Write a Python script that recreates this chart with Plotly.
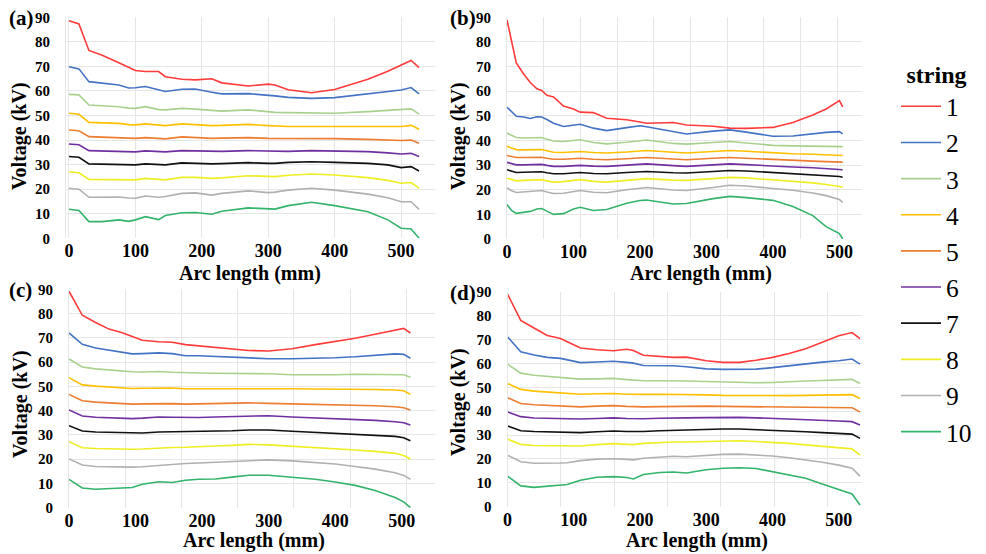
import plotly.graph_objects as go

# ---------------- data ----------------
strings = ["1", "2", "3", "4", "5", "6", "7", "8", "9", "10"]
colors = ["#FF3B3B", "#4472C4", "#A9D18E", "#FFC000", "#ED7D31",
          "#7030A0", "#111111", "#EEEE22", "#B0B0B0", "#33B36B"]
x_ticks = [0, 100, 200, 300, 400, 500]
y_ticks = [0, 10, 20, 30, 40, 50, 60, 70, 80, 90]

# panel (a)
x_a = [0, 15, 30, 50, 75, 90, 100, 115, 135, 145, 170, 190, 215, 230, 270, 300, 310, 330, 365, 400, 450, 480, 500, 515, 527]
a1 = [88.6, 87.3, 76.5, 74.5, 71.5, 69.5, 68.3, 67.9, 67.9, 65.8, 64.8, 64.5, 65, 63.3, 62, 62.8, 62.4, 60.5, 59.3, 60.6, 64.8, 68, 70.6, 72.4, 69.5]
a2 = [69.9, 69, 63.8, 63.1, 62.4, 61.2, 61.3, 61.8, 60.5, 59.8, 60.7, 60.8, 59.5, 58.8, 58.9, 58.4, 58.0, 57.4, 57, 57.3, 59, 59.9, 60.4, 61.4, 58.8]
a3 = [58.6, 58.4, 54.3, 54, 53.6, 53, 52.9, 53.6, 52.4, 52.3, 52.9, 52.6, 52, 51.8, 52.3, 51.4, 51.3, 51.2, 51.2, 50.9, 51.6, 52, 52.3, 52.7, 50.6]
a4 = [50.9, 50.5, 47.2, 47, 46.8, 46.3, 46.2, 46.6, 46, 45.9, 46.6, 46.3, 45.9, 46, 46.4, 45.9, 45.7, 45.5, 45.5, 45.5, 45.6, 45.5, 45.5, 46, 44.4]
a5 = [44.1, 43.8, 41.4, 41.2, 41.1, 40.8, 40.7, 41, 40.6, 40.5, 41.3, 41, 40.7, 40.8, 41, 40.7, 40.7, 40.7, 40.7, 40.6, 40.3, 40, 39.8, 40, 38.7]
a6 = [38.4, 38.1, 35.7, 35.6, 35.5, 35.3, 35.2, 35.6, 35.3, 35.2, 35.7, 35.5, 35.3, 35.4, 35.7, 35.4, 35.3, 35.4, 35.7, 35.5, 35.3, 34.8, 34.3, 34.6, 33.3]
a7 = [33.3, 33, 30.3, 30.2, 30.1, 29.9, 29.9, 30.3, 30, 29.9, 30.7, 30.5, 30.3, 30.4, 30.8, 30.5, 30.5, 30.9, 31.2, 30.9, 30.5, 29.9, 28.8, 29.2, 27.4]
a8 = [27.1, 26.7, 24, 24, 24, 23.8, 23.8, 24.4, 23.8, 23.8, 24.8, 24.8, 24.4, 24.6, 25.5, 25.1, 25.1, 25.7, 26.2, 25.8, 24.7, 23.6, 22.4, 22.7, 20.4]
a9 = [20.4, 20, 16.7, 16.7, 16.8, 16.4, 16.3, 17.2, 16.7, 17, 18.3, 18.5, 17.6, 18.3, 19.3, 18.6, 18.8, 19.6, 20.4, 19.6, 18, 16.5, 14.9, 14.9, 11.8]
a10 = [11.8, 11.3, 6.8, 6.8, 7.5, 6.9, 7.5, 8.8, 7.6, 9.3, 10.4, 10.5, 9.8, 11, 12.4, 11.8, 11.9, 13.3, 14.7, 13.3, 10.8, 7.5, 4.1, 3.8, 0]

# panel (b)
x_b = [0, 7, 14, 25, 35, 45, 52, 60, 70, 85, 100, 110, 130, 150, 180, 200, 210, 250, 270, 310, 335, 360, 400, 430, 460, 480, 500, 505]
b1 = [88.9, 80, 71.5, 67, 63.5, 61, 60.3, 58.3, 57.7, 54, 52.8, 51.5, 51.3, 49, 48.4, 47.5, 47, 47.3, 46.3, 45.8, 45, 44.9, 45.3, 47.3, 50.3, 52.8, 56.2, 53.6]
b2 = [53.5, 51.5, 49.8, 49.5, 48.9, 49.6, 49.5, 48.5, 47, 45.7, 46.3, 46.6, 45, 44, 45.2, 46, 45.6, 43.5, 42.6, 43.8, 44.3, 43.4, 41.7, 41.8, 42.8, 43.3, 43.6, 42.7]
b3 = [43, 42, 41.2, 41, 41, 41.3, 41.2, 40.5, 39.8, 39.6, 40, 40.3, 39.2, 38.6, 39.3, 40, 40.2, 38.8, 38.5, 39.2, 39.6, 39, 38, 37.8, 37.8, 37.7, 37.7, 37.5]
b4 = [37.6, 36.8, 36.3, 36.2, 36.2, 36.3, 36.3, 35.8, 35.2, 35.1, 35.4, 35.5, 35.1, 34.9, 35.3, 35.8, 35.9, 35.2, 34.9, 35.5, 35.9, 35.6, 34.9, 34.6, 34.4, 34.2, 34, 33.9]
b5 = [33.9, 33.4, 33.1, 33.1, 33.1, 33.2, 33.2, 32.8, 32.4, 32.4, 32.7, 32.8, 32.4, 32.2, 32.6, 33, 33.1, 32.5, 32.2, 32.8, 33.1, 32.8, 32.2, 31.9, 31.6, 31.4, 31.3, 31.2]
b6 = [31.1, 30.5, 30.1, 30.1, 30.1, 30.3, 30.3, 29.9, 29.5, 29.5, 29.8, 29.9, 29.6, 29.5, 30, 30.4, 30.5, 29.8, 29.5, 30.1, 30.5, 30.2, 29.5, 29.2, 28.9, 28.6, 28.3, 28.1]
b7 = [28.1, 27.5, 27, 27.1, 27.2, 27.3, 27.3, 26.9, 26.5, 26.5, 26.9, 27, 26.6, 26.5, 27, 27.4, 27.4, 26.9, 26.8, 27.4, 27.8, 27.6, 27, 26.6, 26.3, 25.9, 25.4, 25.1]
b8 = [24.7, 24, 23.6, 23.8, 24, 24.2, 24.1, 23.6, 23.1, 23.3, 23.9, 24.1, 23.4, 23.1, 23.8, 24.4, 24.5, 23.9, 23.8, 24.5, 25, 24.8, 24.1, 23.5, 22.8, 22.1, 21.5, 21.1]
b9 = [20.7, 19.6, 18.9, 19.2, 19.4, 19.8, 19.7, 19.1, 18.5, 18.6, 19.4, 19.7, 19, 18.8, 20, 20.8, 20.9, 19.9, 19.7, 20.9, 21.8, 21.5, 20.7, 19.8, 18.7, 17.6, 16, 14.9]
b10 = [14, 11.5, 10.4, 10.8, 11.2, 12.2, 12.4, 11.3, 10, 10.3, 12.2, 12.9, 11.6, 12, 14.5, 15.6, 15.8, 14.2, 14.4, 16.4, 17.3, 16.8, 15.7, 13.2, 9.5, 5, 2.2, 0]

# panel (c)
x_c = [0, 20, 40, 60, 80, 95, 110, 135, 155, 175, 195, 220, 245, 270, 300, 335, 370, 400, 430, 460, 490, 503, 513]
c1 = [89.2, 79.3, 76.3, 73.6, 72.1, 70.5, 69, 68.4, 68.2, 67.2, 66.7, 66.3, 65.5, 64.8, 64.6, 65.5, 67.2, 68.5, 69.8, 71.5, 73.3, 73.9, 72]
c2 = [72, 67.3, 65.8, 64.9, 64.3, 63.4, 63.5, 63.8, 63.5, 62.6, 62.6, 62.3, 62, 61.6, 61.4, 61.4, 61.5, 61.8, 62.2, 62.7, 63.4, 63.2, 61.6]
c3 = [61.3, 58, 57.2, 56.7, 56.2, 56, 55.9, 56.1, 55.8, 55.5, 55.5, 55.4, 55.4, 55.4, 55.2, 54.8, 54.7, 54.8, 55, 55, 55, 54.8, 53.8]
c4 = [53.6, 50.6, 50.1, 49.8, 49.3, 49.1, 49.2, 49.4, 49.3, 49, 49, 49.2, 49.3, 49.2, 49.2, 49, 48.9, 48.9, 48.8, 48.7, 48.5, 48.2, 46.7]
c5 = [46.7, 44.1, 43.5, 43.2, 42.8, 42.7, 42.8, 43, 42.9, 42.7, 42.8, 43, 43, 43.2, 43, 42.8, 42.6, 42.5, 42.3, 42, 41.6, 41.2, 40.3]
c6 = [40.3, 37.8, 37.3, 37, 36.8, 36.7, 36.9, 37.4, 37.3, 37.2, 37.2, 37.4, 37.6, 37.9, 37.9, 37.4, 37, 36.7, 36.5, 36, 35.4, 35, 34.1]
c7 = [33.8, 31.6, 31.2, 31, 30.8, 30.7, 30.8, 31.2, 31.3, 31.1, 31.2, 31.5, 31.7, 32, 32, 31.5, 31, 30.6, 30.3, 29.9, 29.4, 28.8, 27.6]
c8 = [27.2, 24.7, 24.4, 24.2, 24.1, 24.1, 24.2, 24.6, 24.8, 24.9, 25, 25.4, 25.7, 26.1, 25.9, 25.4, 24.9, 24.4, 23.8, 23.2, 22.4, 21.5, 20.1]
c9 = [20.1, 17.6, 17, 16.8, 16.7, 16.7, 16.9, 17.5, 17.9, 18.2, 18.4, 18.7, 19.1, 19.6, 19.7, 19.3, 18.7, 18, 17, 15.9, 14.4, 13.3, 11.7]
c10 = [11.7, 8.1, 7.6, 7.9, 8, 8.3, 9.7, 10.7, 10.4, 11.3, 11.7, 11.8, 12.6, 13.4, 13.4, 12.6, 11.7, 10.6, 9.2, 7.1, 4.2, 2.4, 0]

# panel (d)
x_d = [0, 20, 40, 60, 80, 90, 110, 135, 160, 180, 190, 205, 230, 250, 270, 300, 325, 350, 375, 400, 425, 450, 475, 500, 520, 532]
d1 = [89, 78, 74.8, 71.7, 70.4, 69, 66.4, 65.7, 65.3, 65.9, 65.4, 63.4, 62.8, 62.5, 62.6, 61.1, 60.4, 60.4, 61.3, 62.5, 64.1, 66.1, 68.8, 71.6, 72.9, 70.4]
d2 = [71.1, 64.9, 63.5, 62.5, 62.1, 61.5, 60.3, 60.6, 60.9, 60.4, 60.1, 59.1, 59.1, 59, 58.6, 57.7, 57.5, 57.5, 57.6, 58.2, 59, 59.9, 60.5, 61.1, 61.8, 59.7]
d3 = [59.7, 55.9, 55, 54.5, 54.1, 53.8, 53.4, 53.5, 53.7, 53.2, 53, 52.7, 52.7, 52.8, 52.6, 52.4, 52.2, 52, 51.9, 52, 52.4, 52.6, 52.8, 53, 53.3, 51.6]
d4 = [51.6, 49.1, 48.4, 48, 47.5, 47.4, 47.1, 47.3, 47.4, 47.1, 47, 47, 47.1, 47.1, 47, 46.8, 46.6, 46.5, 46.4, 46.4, 46.5, 46.6, 46.7, 46.8, 46.9, 45.3]
d5 = [45.6, 43.2, 42.7, 42.4, 42.1, 42, 41.8, 42.1, 42.3, 42, 41.8, 41.8, 41.9, 42, 42.1, 42.1, 42, 41.9, 41.8, 41.8, 41.7, 41.6, 41.5, 41.5, 41.4, 39.7]
d6 = [39.7, 37.7, 37.1, 36.9, 36.7, 36.7, 36.7, 36.9, 37.2, 36.9, 36.8, 36.8, 37, 37.2, 37.2, 37.3, 37.4, 37.4, 37.2, 37, 36.7, 36.4, 36.1, 35.9, 35.6, 34.2]
d7 = [33.8, 31.8, 31.5, 31.3, 31.1, 31, 31, 31.4, 31.7, 31.5, 31.4, 31.5, 31.8, 32, 32.1, 32.3, 32.5, 32.5, 32.3, 32.1, 31.8, 31.4, 31, 30.7, 30.4, 28.6]
d8 = [28.3, 26.1, 25.6, 25.5, 25.4, 25.4, 25.4, 26, 26.4, 26.1, 26, 26.5, 26.9, 27.1, 27.1, 27.3, 27.6, 27.6, 27.3, 27, 26.5, 25.9, 25.3, 24.8, 24.2, 21.6]
d9 = [21.6, 18.8, 18.2, 18.1, 18.3, 18.4, 19.3, 19.9, 20.1, 19.8, 19.6, 20.3, 20.8, 21.1, 20.9, 21.4, 21.9, 22, 21.7, 21.2, 20.5, 19.6, 18.6, 17.4, 16.1, 12.8]
d10 = [12.8, 8.7, 8.1, 8.5, 8.9, 9.3, 11.1, 12.3, 12.6, 12.2, 11.6, 13.5, 14.3, 14.5, 14.1, 15.5, 16.1, 16.3, 16, 14.6, 13.4, 11.9, 9.5, 7.3, 5.3, 0.7]

panels = [
    ("(a)", x_a, [a1, a2, a3, a4, a5, a6, a7, a8, a9, a10]),
    ("(b)", x_b, [b1, b2, b3, b4, b5, b6, b7, b8, b9, b10]),
    ("(c)", x_c, [c1, c2, c3, c4, c5, c6, c7, c8, c9, c10]),
    ("(d)", x_d, [d1, d2, d3, d4, d5, d6, d7, d8, d9, d10]),
]

# ---------------- layout geometry ----------------
W, H = 986, 554
SERIF = "Liberation Serif"
# pixel boxes: (left, right, top, bottom), x range, grid spacing (mm),
# x-title centre (x, y), y-title centre (x, y)
boxes = [
    (66, 435, 17.3, 238.3, [-4.5, 551], 100, (250, 273), (20, 136)),
    (507, 862, 17.3, 239.0, [0, 534], 55.2, (701, 273), (459, 136)),
    (69, 435, 289.3, 507.7, [0, 550], 84.5, (254, 540), (20, 404)),
    (507.5, 862, 291.7, 506.7, [0, 535], 80.5, (697, 540), (458, 402)),
]

fig = go.Figure()

for i, (label, xs, series) in enumerate(panels):
    k = "" if i == 0 else str(i + 1)
    for j, ys in enumerate(series):
        fig.add_trace(go.Scatter(
            x=xs, y=ys, mode="lines", name=strings[j],
            line=dict(color=colors[j], width=1.6),
            xaxis="x" + k, yaxis="y" + k,
            legendgroup=strings[j], showlegend=(i == 0),
        ))

    l, r, t, b, xr, gstep, (tx, ty), (vx, vy) = boxes[i]
    fig.layout["xaxis" + k] = dict(
        domain=[l / W, r / W], range=xr, anchor="y" + k, automargin=False,
        tickmode="array", tickvals=x_ticks, ticks="",
        showgrid=False, zeroline=False, showline=False,
        ticklabelstandoff=0,
        minor=dict(showgrid=True, tick0=0, dtick=gstep, gridcolor="#e6e6e6",
                   gridwidth=1, ticks=""),
        tickfont=dict(family=SERIF, size=18, color="black", weight="bold"),
    )
    fig.layout["yaxis" + k] = dict(
        domain=[1 - b / H, 1 - t / H], range=[0, 90], anchor="x" + k,
        automargin=False,
        tickmode="array", tickvals=y_ticks, ticks="",
        showgrid=True, gridcolor="#e6e6e6", gridwidth=1, zeroline=False,
        showline=True, linecolor="#e6e6e6", linewidth=1,
        ticklabelstandoff=12,
        tickfont=dict(family=SERIF, size=15, color="black", weight="bold"),
    )
    # x-axis title
    fig.add_annotation(
        text="Arc length (mm)", xref="paper", yref="paper",
        x=tx / W, y=1 - ty / H, xanchor="center", yanchor="middle",
        showarrow=False, borderpad=0,
        font=dict(family=SERIF, size=20, color="black", weight="bold"),
    )
    # y-axis title
    fig.add_annotation(
        text="Voltage (kV)", xref="paper", yref="paper", textangle=-90,
        x=vx / W, y=1 - vy / H, xanchor="center", yanchor="middle",
        showarrow=False, borderpad=0,
        font=dict(family=SERIF, size=20, color="black", weight="bold"),
    )
    # panel label
    lx = 8 if i % 2 == 0 else 449
    fig.add_annotation(
        text=label, xref="paper", yref="paper", x=lx / W, y=1 - (t + 1) / H,
        xanchor="left", yanchor="middle", showarrow=False, borderpad=0,
        font=dict(family=SERIF, size=21, color="black", weight="bold"),
    )

fig.update_layout(
    width=W, height=H,
    margin=dict(l=0, r=0, t=0, b=0, pad=0, autoexpand=False),
    paper_bgcolor="white", plot_bgcolor="white",
    legend=dict(
        x=896 / W, y=1 - 52 / H, xanchor="left", yanchor="top",
        font=dict(family=SERIF, size=25.5, color="black"),
        title=dict(text="string", side="top center",
                   font=dict(family=SERIF, size=24, color="black", weight="bold")),
        itemwidth=40, tracegroupgap=0, bgcolor="rgba(0,0,0,0)",
    ),
)

# remove the page's default body margin so the figure sits at the window origin
fig.write_html("out.html", config={"displayModeBar": False},
               post_script="document.body.style.margin='0px';")
